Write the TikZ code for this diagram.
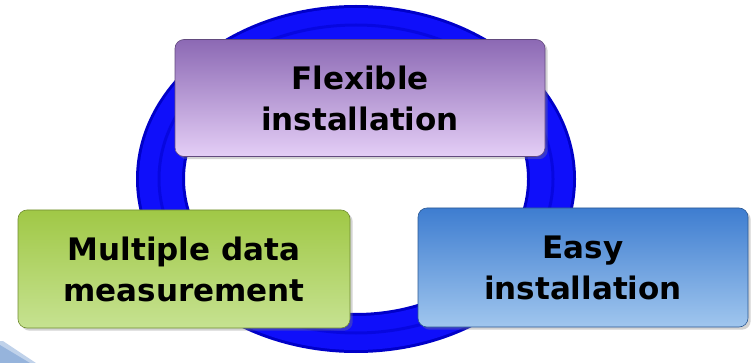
\documentclass[tikz,border=0pt]{standalone}
\usepackage{fontspec}
\setmainfont{DejaVu Sans}
\usepackage{xcolor}
\usepackage{tikz}
\usetikzlibrary{shadows}

\definecolor{ringblue}{RGB}{15,15,250}
\definecolor{ringdark}{RGB}{0,0,200}
\definecolor{purpletop}{RGB}{140,105,180}
\definecolor{purplebot}{RGB}{228,206,246}
\definecolor{greentop}{RGB}{160,200,70}
\definecolor{greenbot}{RGB}{198,226,145}
\definecolor{bluetop}{RGB}{62,125,208}
\definecolor{bluebot}{RGB}{160,198,238}
\definecolor{swoosh}{RGB}{150,180,220}

\tikzset{
    box/.style={rounded corners=9pt, draw=#1top!70!black, line width=0.6pt,
        top color=#1top, bottom color=#1bot, drop shadow={opacity=0.35},
        align=center, font=\fontsize{31}{41}\selectfont\bfseries,
        inner sep=0pt},
}

\begin{document}
\begin{tikzpicture}[x=1pt, y=-1pt]
    \useasboundingbox (0,0) rectangle (754,363);

    % Draw ring
    \fill[ringdark, even odd rule] (356,179) ellipse [x radius=220, y radius=174]
        (356,179) ellipse [x radius=171, y radius=134];
    \fill[ringblue, even odd rule] (356,179) ellipse [x radius=217, y radius=171]
        (356,179) ellipse [x radius=174, y radius=137];
    \draw[ringdark, line width=3pt, opacity=0.5] (356,179) ellipse [x radius=197, y radius=154];

    % Swoosh in the corner
    \fill[swoosh!60] (0,341) -- (3,341) -- (36,363) -- (0,363) -- cycle;
    \fill[swoosh] (0,345) -- (30,363) -- (0,363) -- cycle;

    % Boxes
    \node[box=purple, minimum width=370pt, minimum height=117pt] (flex) at (360,98)
        {Flexible\\installation};
    \node[box=green, minimum width=332pt, minimum height=118pt] (multi) at (184,269)
        {Multiple data\\measurement};
    \node[box=blue, minimum width=330pt, minimum height=119pt] (easy) at (583,267.5)
        {Easy\\installation};
\end{tikzpicture}
\end{document}
